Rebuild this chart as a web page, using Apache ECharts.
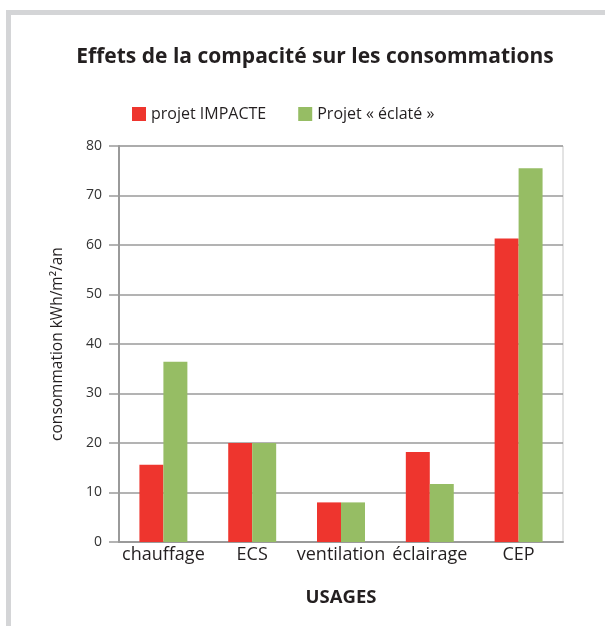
<!DOCTYPE html>
<html>
<head>
<meta charset="utf-8">
<script src="https://cdn.jsdelivr.net/npm/echarts@6/dist/echarts.min.js"></script>
<style>
  html, body { margin: 0; padding: 0; background: #fff; }
  #main { width: 605px; height: 626px; }
</style>
</head>
<body>
<div id="main"></div>
<script>
// categories (usages)
var usages = ['chauffage', 'ECS', 'ventilation', 'éclairage', 'CEP'];
// consommation kWh/m²/an
var impacte = [15.6, 20, 8, 18.2, 61.3];
var eclate = [36.4, 20, 8, 11.7, 75.5];
var seriesNames = ['projet IMPACTE', 'Projet « éclaté »'];

var fontFam = '"Open Sans", "Noto Sans", sans-serif';
var chart = echarts.init(document.getElementById('main'));

var option = {
  animation: false,
  textStyle: { fontFamily: fontFam },
  graphic: [
    // cadre gris clair
    { type: 'rect', shape: { x: 6, y: 10, width: 610, height: 5 }, style: { fill: '#d4d5d7' } },
    { type: 'rect', shape: { x: 6, y: 10, width: 5, height: 630 }, style: { fill: '#d4d5d7' } }
  ],
  title: {
    text: 'Effets de la compacité sur les consommations',
    left: 310, top: 42, textAlign: 'center',
    textStyle: { fontSize: 21, fontWeight: 'bold', color: '#231f20', fontFamily: fontFam }
  },
  legend: {
    data: seriesNames,
    top: 101, left: 127,
    itemWidth: 14, itemHeight: 14, itemGap: 32,
    icon: 'rect',
    textStyle: { fontSize: 16, color: '#231f20', fontFamily: fontFam }
  },
  grid: { left: 119, right: 42, top: 146, bottom: 84, show: true, borderColor: '#c8c8c8', borderWidth: 1 },
  xAxis: {
    type: 'category',
    data: usages,
    name: 'USAGES',
    nameLocation: 'middle',
    nameGap: 46,
    nameTextStyle: { fontSize: 18.5, fontWeight: 'bold', color: '#231f20' },
    axisLine: { lineStyle: { color: '#9a9a9a', width: 2 } },
    axisTick: { show: false },
    axisLabel: { fontSize: 18, color: '#231f20', margin: 4, interval: 0 }
  },
  yAxis: {
    type: 'value',
    min: 0, max: 80, interval: 10,
    name: 'consommation kWh/m²/an',
    nameLocation: 'middle',
    nameGap: 53,
    nameRotate: 90,
    nameTextStyle: { fontSize: 15.5, color: '#231f20' },
    axisLine: { show: true, lineStyle: { color: '#9a9a9a', width: 2 } },
    axisTick: { show: true, length: 10, lineStyle: { color: '#9a9a9a', width: 1.5 } },
    axisLabel: { fontSize: 14, fontWeight: 500, color: '#333333', margin: 17 },
    splitLine: { lineStyle: { color: '#9a9a9a', width: 1.5 } }
  },
  series: [
    {
      name: seriesNames[0], type: 'bar', data: impacte,
      barGap: 0, barCategoryGap: '46%',
      itemStyle: { color: '#ee352e' }
    },
    {
      name: seriesNames[1], type: 'bar', data: eclate,
      barGap: 0, barCategoryGap: '46%',
      itemStyle: { color: '#96bd64' }
    }
  ]
};
chart.setOption(option);
</script>
</body>
</html>
